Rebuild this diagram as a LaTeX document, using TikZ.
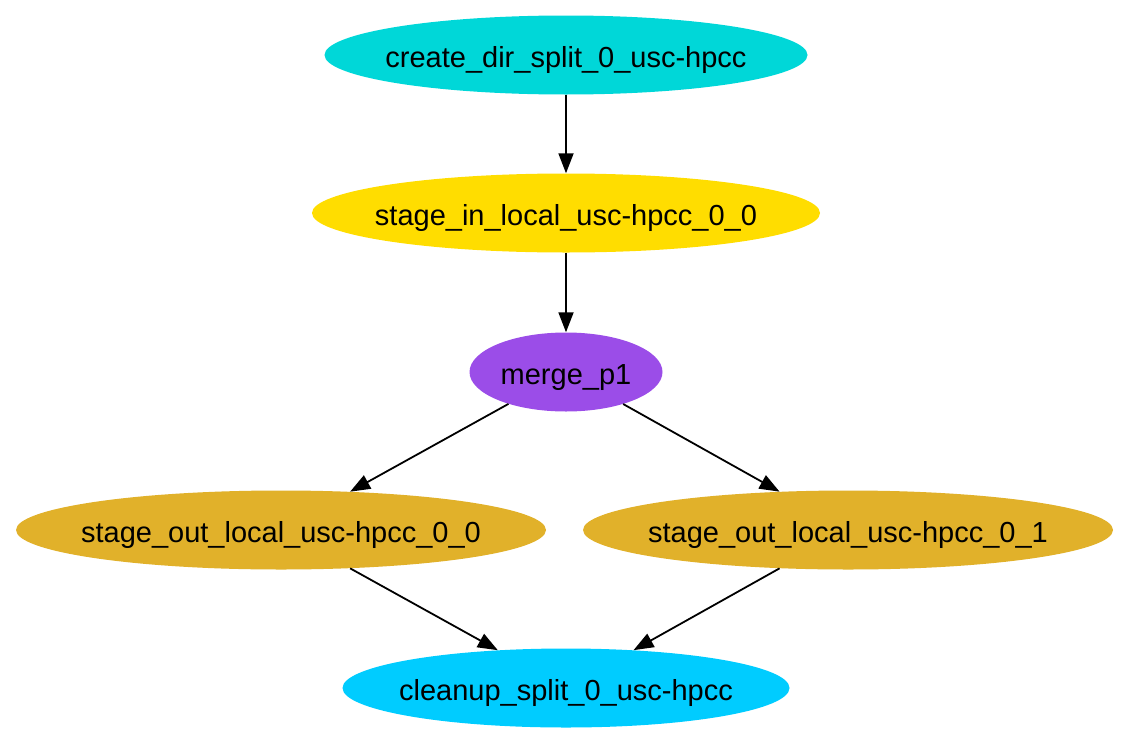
\documentclass[tikz,border=0pt]{standalone}
\usepackage{fontspec}
\setmainfont{Liberation Sans}
\usetikzlibrary{shapes.geometric, arrows.meta}

\definecolor{createcol}{RGB}{0,215,216}
\definecolor{stageincol}{RGB}{255,221,0}
\definecolor{mergecol}{RGB}{155,77,232}
\definecolor{stageoutcol}{RGB}{225,177,42}
\definecolor{cleanupcol}{RGB}{0,204,255}

\tikzset{
  job/.style={ellipse, inner sep=0pt, minimum height=79pt,
    text height=24pt, text depth=0pt, font=\fontsize{29}{35}\selectfont},
  dep/.style={-{Triangle[length=20pt,width=15pt]}, line width=1.8pt},
}
\newcommand{\joblbl}[1]{\makebox[0pt]{#1}}

\begin{document}
\begin{tikzpicture}[x=1pt,y=-1pt]
  \useasboundingbox (0,0) rectangle (1129,744);
  % jobs
  \node[job, fill=createcol, minimum width=483pt] (create) at (566,55) {\joblbl{create\_dir\_split\_0\_usc-hpcc}};
  \node[job, fill=stageincol, minimum width=508pt] (stagein) at (566,213) {\joblbl{stage\_in\_local\_usc-hpcc\_0\_0}};
  \node[job, fill=mergecol, minimum width=193pt] (merge) at (566,372) {\joblbl{merge\_p1}};
  \node[job, fill=stageoutcol, minimum width=530pt] (stageout0) at (281,530) {\joblbl{stage\_out\_local\_usc-hpcc\_0\_0}};
  \node[job, fill=stageoutcol, minimum width=530pt] (stageout1) at (848,530) {\joblbl{stage\_out\_local\_usc-hpcc\_0\_1}};
  \node[job, fill=cleanupcol, minimum width=447pt] (cleanup) at (566,688) {\joblbl{cleanup\_split\_0\_usc-hpcc}};
  % dependencies
  \draw[dep] (create) -- (stagein);
  \draw[dep] (stagein) -- (merge);
  \draw[dep] (merge) -- (stageout0);
  \draw[dep] (merge) -- (stageout1);
  \draw[dep] (stageout0) -- (cleanup);
  \draw[dep] (stageout1) -- (cleanup);
\end{tikzpicture}
\end{document}
